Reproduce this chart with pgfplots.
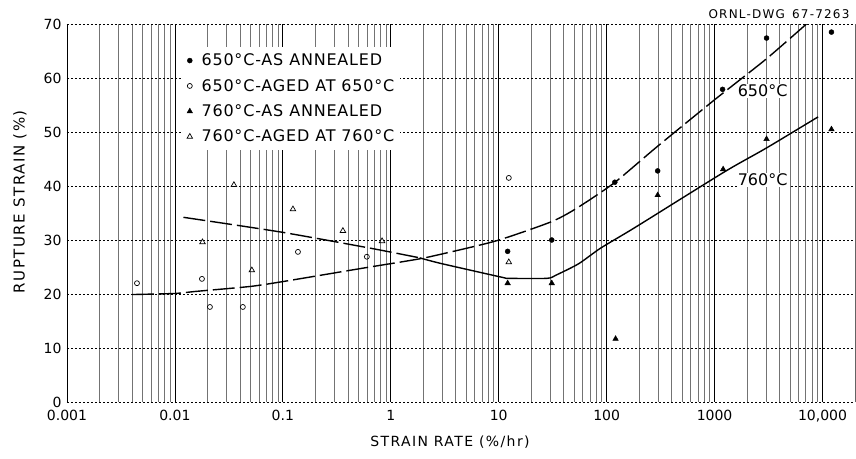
\documentclass[border=0pt]{standalone}
\usepackage{fontspec}
\setmainfont{DejaVu Sans}
\newfontfamily\widefont[LetterSpace=10]{DejaVu Sans}
\newfontfamily\lgfont[LetterSpace=5]{DejaVu Sans}
\usepackage{pgfplots}
\pgfplotsset{compat=1.18}
\begin{document}
\begin{tikzpicture}
\useasboundingbox (0,0) rectangle (856pt,458pt);
\begin{axis}[
  at={(67pt,56pt)}, anchor=south west, scale only axis,
  width=788pt, height=378pt,
  xmode=log, xmin=0.001, xmax=20000, ymin=0, ymax=70,
  xtick={0.001,0.01,0.1,1,10,100,1000,10000},
  xticklabels={0.001,0.01,0.1,1,10,100,1000,{10,000}},
  minor xtick={0.002,0.003,0.004,0.005,0.006,0.007,0.008,0.009,
               0.02,0.03,0.04,0.05,0.06,0.07,0.08,0.09,
               0.2,0.3,0.4,0.5,0.6,0.7,0.8,0.9,
               2,3,4,5,6,7,8,9,
               20,30,40,50,60,70,80,90,
               200,300,400,500,600,700,800,900,
               2000,3000,4000,5000,6000,7000,8000,9000,
               20000},
  ytick={0,10,20,30,40,50,60,70},
  yticklabels={0,10,20,30,40,50,60,70},
  major tick length=0pt, minor tick length=0pt,
  grid=both,
  major x grid style={black, line width=0.8pt},
  minor x grid style={black!55, line width=0.6pt},
  major y grid style={black, line width=0.8pt, dash pattern=on 2pt off 2pt},
  axis line style={draw=none},
  tick label style={font=\fontsize{14}{16}\selectfont},
  xticklabel style={yshift=-5pt},
  yticklabel style={xshift=-2pt},
  xlabel={STRAIN RATE (\%/hr)},
  ylabel={RUPTURE STRAIN (\%)},
  every axis x label/.style={at={(rel axis cs:0.486,0)}, anchor=center, yshift=-40pt, font=\widefont\fontsize{14}{16}\selectfont},
  every axis y label/.style={at={(rel axis cs:-0.0596,0.53)}, anchor=center, rotate=90, font=\widefont\fontsize{15}{17}\selectfont},
  legend style={at={(rel axis cs:0.147,0.940)}, anchor=north west, draw=none, fill=white,
    font=\lgfont\fontsize{16}{18}\selectfont, row sep=8pt, inner xsep=4pt, inner ysep=5pt,
    /tikz/every odd column/.append style={column sep=7pt}},
  legend cell align=left,
  legend image code/.code={\draw[#1] plot coordinates {(0pt,0pt)};},
]
% curves
\addplot[forget plot, black, line width=1.4pt, dash pattern=on 22pt off 5pt, smooth, tension=0.4] coordinates {
(0.004,19.9) (0.01,20.1) (0.016,20.5) (0.05,21.4) (0.1,22.3) (0.3,23.9) (0.64,25.0) (1.4,26.1) (2.3,26.9) (9.3,29.8) (30,33.3) (51,35.7) (116,40.5) (290,47.2) (990,55.9) (3000,63.5) (7100,70)};
\addplot[forget plot, black, line width=1.4pt, dash pattern=on 22pt off 5pt, smooth, tension=0.4] coordinates {
(0.012,34.2) (0.094,31.5) (0.64,28.5) (1.85,26.7)};
\addplot[forget plot, black, line width=1.4pt, smooth, tension=0.4] coordinates {
(1.85,26.7) (2.85,25.7) (10.7,23.1) (12.5,22.9) (28,22.9) (34,23.5) (55,25.6) (88,28.5) (186,32.4) (1230,42.6) (3000,47.0) (9100,52.8)};
% data
\addplot[only marks, mark=*, mark size=2.5pt, black] coordinates {
(12.1,27.9) (31,30.0) (119,40.7) (297,42.8) (1186,57.9) (3030,67.4) (12100,68.5)};
\addlegendentry{650°C-AS ANNEALED}
\addplot[only marks, mark=o, mark size=2.5pt, black, mark options={line width=0.7pt}] coordinates {
(0.00445,22.0) (0.0178,22.8) (0.0211,17.6) (0.0426,17.6) (0.138,27.8) (0.6,26.9) (12.4,41.5)};
\addlegendentry{650°C-AGED AT 650°C}
\addplot[only marks, mark=triangle*, mark size=3.2pt, black] coordinates {
(12.1,22.0) (31,22.0) (121,11.7) (297,38.3) (1200,43.1) (3030,48.7) (12100,50.5)};
\addlegendentry{760°C-AS ANNEALED}
\addplot[only marks, mark=triangle, mark size=3.2pt, black, mark options={line width=0.7pt}] coordinates {
(0.018,29.6) (0.0352,40.2) (0.0516,24.4) (0.124,35.7) (0.36,31.7) (0.83,29.8) (12.4,25.9)};
\addlegendentry{760°C-AGED AT 760°C}
\node[anchor=west, fill=white, inner sep=1pt, font=\fontsize{16}{18}\selectfont] at (axis cs:1600,57.6) {650°C};
\node[anchor=west, fill=white, inner sep=1pt, font=\fontsize{16}{18}\selectfont] at (axis cs:1600,41.1) {760°C};
\draw[black, line width=0.8pt] (rel axis cs:0,0) -- (rel axis cs:0,1);
\draw[black, line width=0.8pt] (rel axis cs:1,0) -- (rel axis cs:1,1);
\end{axis}
\node[anchor=east, font=\widefont\fontsize{12}{14}\selectfont] at (853pt,444pt) {ORNL-DWG\hspace{0.6em}67-7263};
\end{tikzpicture}
\end{document}
